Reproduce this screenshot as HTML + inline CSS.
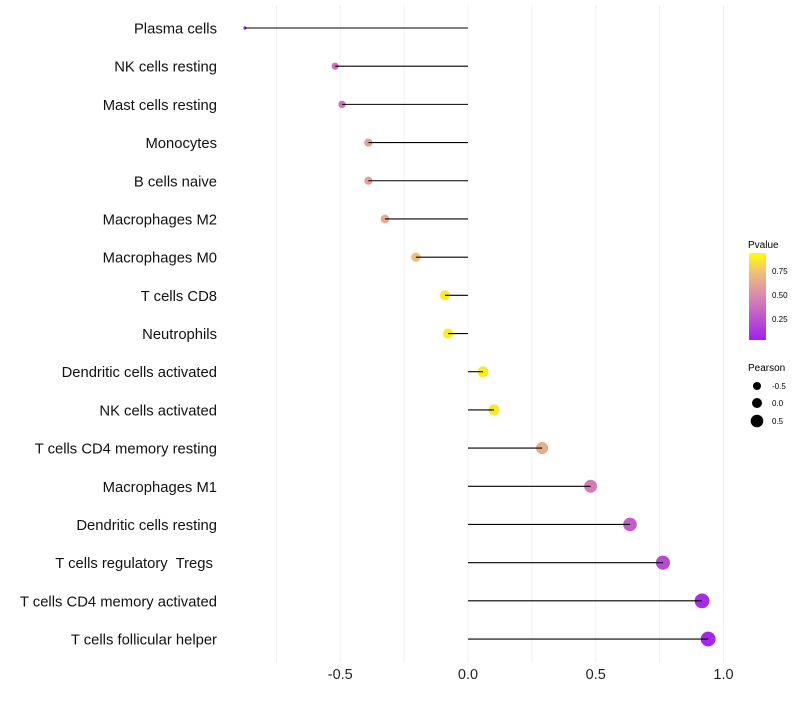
<!DOCTYPE html>
<html><head><meta charset="utf-8"><style>
body{margin:0;background:#fff;}
text{font-family:"Liberation Sans",sans-serif;white-space:pre;}
</style></head><body>
<svg id="chart" width="800" height="700" xmlns="http://www.w3.org/2000/svg">
<defs><linearGradient id="pg" x1="0" y1="1" x2="0" y2="0">
<stop offset="0" stop-color="#a020f0"/><stop offset="0.5" stop-color="#d888b0"/><stop offset="0.78" stop-color="#f0c078"/><stop offset="1" stop-color="#ffff00"/></linearGradient></defs>
<g id="grid"></g><g id="marks"></g><g id="labels"></g>
<g id="legend">
<text x="748" y="248" font-size="10" fill="#000">Pvalue</text>
<rect x="749" y="253" width="17" height="87" fill="url(#pg)"/>
<text x="772" y="274" font-size="8">0.75</text>
<text x="772" y="298" font-size="8">0.50</text>
<text x="772" y="322" font-size="8">0.25</text>
<text x="748" y="371" font-size="10">Pearson</text>
<circle cx="757" cy="386" r="4"/><text x="772" y="389" font-size="8">-0.5</text>
<circle cx="757" cy="403" r="5"/><text x="772" y="406" font-size="8">0.0</text>
<circle cx="757" cy="421" r="6.3"/><text x="772" y="424" font-size="8">0.5</text>
</g>
</svg>
<script>
const categories=["Plasma cells","NK cells resting","Mast cells resting","Monocytes","B cells naive","Macrophages M2","Macrophages M0","T cells CD8","Neutrophils","Dendritic cells activated","NK cells activated","T cells CD4 memory resting","Macrophages M1","Dendritic cells resting","T cells regulatory  Tregs ","T cells CD4 memory activated","T cells follicular helper"];
const pearson=[-0.873,-0.52,-0.493,-0.39,-0.39,-0.325,-0.204,-0.09,-0.078,0.059,0.102,0.29,0.48,0.634,0.763,0.916,0.94];
const pvalue=[0.02,0.4,0.42,0.62,0.62,0.67,0.77,0.93,0.93,0.93,0.92,0.68,0.45,0.3,0.2,0.06,0.04];
const xTicks=[-0.5,0,0.5,1];
const xTickLabels=["-0.5","0.0","0.5","1.0"];
const NS="http://www.w3.org/2000/svg";
const x=v=>468+v*255.5;
const y=i=>28+i*38.19;
const r=v=>Math.max(1.5,Math.sqrt(Math.max(0,28+29*v)));
function col(p){const s=[[0,[160,32,240]],[0.5,[216,136,176]],[0.78,[240,192,120]],[1,[255,255,0]]];
for(let k=1;k<s.length;k++){if(p<=s[k][0]){const t=(p-s[k-1][0])/(s[k][0]-s[k-1][0]);const c=s[k-1][1].map((a,j)=>Math.round(a+(s[k][1][j]-a)*t));return `rgb(${c})`;}}return "rgb(255,255,0)";}
function mk(t,a,p){const e=document.createElementNS(NS,t);for(const k in a)e.setAttribute(k,a[k]);p.appendChild(e);return e;}
const g=document.getElementById('grid'),m=document.getElementById('marks'),L=document.getElementById('labels');
for(let v=-0.75;v<=1.01;v+=0.25){const l=mk('line',{x1:x(v),x2:x(v),y1:5,y2:663,stroke:'#f0f0f0','stroke-width':1},g);

}
xTicks.forEach((v,i)=>{const t=mk('text',{x:x(v),y:679,'font-size':14.5,'text-anchor':'middle',fill:'#222'},L);t.textContent=xTickLabels[i];

});
categories.forEach((c,i)=>{
const cy=y(i);
const pt=mk('circle',{cx:x(pearson[i]),cy:cy,r:r(pearson[i]),fill:col(pvalue[i])},m);


const ln=mk('line',{x1:x(0),x2:x(pearson[i]),y1:cy,y2:cy,stroke:'#000','stroke-width':1.1},m);


const t=mk('text',{x:217,y:cy+5.5,'font-size':14.8,'text-anchor':'end',fill:'#111'},L);t.textContent=c;


});
</script>
</body></html>
